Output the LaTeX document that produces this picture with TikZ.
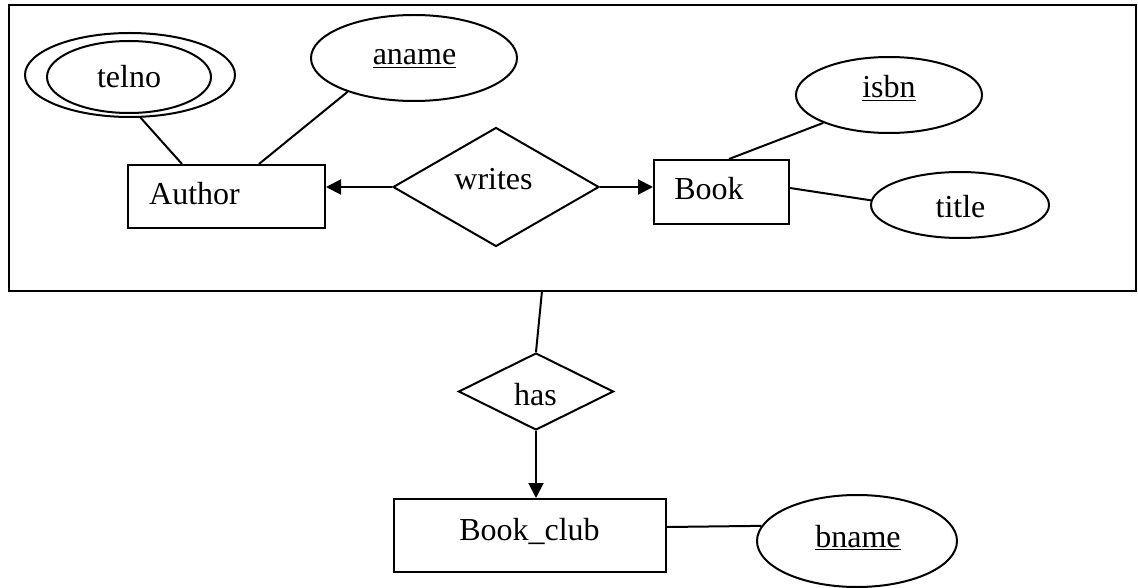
\documentclass[tikz,border=0pt]{standalone}
\usepackage{fontspec}
\setmainfont{Liberation Serif}
\usetikzlibrary{shapes.geometric,arrows.meta}
\begin{document}
\begin{tikzpicture}[x=1pt,y=-1pt,line width=2pt,
  ent/.style={draw,rectangle,inner sep=0pt},
  attr/.style={draw,ellipse,inner sep=0pt},
  rel/.style={draw,diamond,inner sep=0pt},
  lbl/.style={anchor=base,inner sep=0pt,font=\fontsize{32}{36}\selectfont},
  arr/.style={-{Triangle[length=15pt,width=15pt]}}]
\useasboundingbox (0,0) rectangle (1138,588);
\fill[white] (0,0) rectangle (1138,588);
% aggregation box
\node[ent,minimum width=1127pt,minimum height=286pt] (agg) at (572.5,148) {};
% entities
\node[ent,minimum width=197pt,minimum height=63pt] (author) at (226.5,196.5) {};
\node[ent,minimum width=135pt,minimum height=64pt] (book) at (721.5,192) {};
\node[ent,minimum width=272pt,minimum height=73pt] (bookclub) at (530,535.5) {};
% relationships
\node[rel,minimum width=206pt,minimum height=119pt] (writes) at (496,187) {};
\node[rel,minimum width=155pt,minimum height=77pt] (has) at (536,391.5) {};
% attributes
\node[attr,minimum width=210pt,minimum height=84pt] (telno) at (130,75) {};
\node[attr,minimum width=164pt,minimum height=72pt] (telnoin) at (129,77) {};
\node[attr,minimum width=206pt,minimum height=86pt] (aname) at (414,58) {};
\node[attr,minimum width=186pt,minimum height=76pt] (isbn) at (889,95) {};
\node[attr,minimum width=178pt,minimum height=66pt] (title) at (960,205) {};
\node[attr,minimum width=200pt,minimum height=92pt] (bname) at (857,541) {};
% labels
\node[lbl] (tAuthor) at (194.5,205) {Author};
\node[lbl] (tBook) at (709,200) {Book};
\node[lbl] (tBookclub) at (529.5,540) {Book\_club};
\node[lbl] (tWrites) at (493.5,190) {writes};
\node[lbl] (tHas) at (535.5,405) {has};
\node[lbl] (tTelno) at (129,88) {telno};
\node[lbl] (tAname) at (414.5,65) {\underline{aname}};
\node[lbl] (tIsbn) at (889,98) {\underline{isbn}};
\node[lbl] (tTitle) at (960.5,218) {title};
\node[lbl] (tBname) at (858,547) {\underline{bname}};
% connectors
\draw (telno.-76) -- ([xshift=55pt]author.north west);
\draw (aname.-153) -- ([xshift=132pt]author.north west);
\draw[arr] (writes.west) -- (author.east |- writes.west);
\draw[arr] (writes.east) -- (book.west |- writes.east);
\draw ([xshift=76pt]book.north west) -- (isbn.-157);
\draw ([yshift=4pt]book.east) -- (title.177);
\coordinate (aggb) at (542,291);
\draw (aggb) -- (has.north);
\draw[arr] (has.south) -- (has.south |- bookclub.north);
\draw ([yshift=8.5pt]bookclub.east) -- (bname.171);
\end{tikzpicture}
\end{document}
